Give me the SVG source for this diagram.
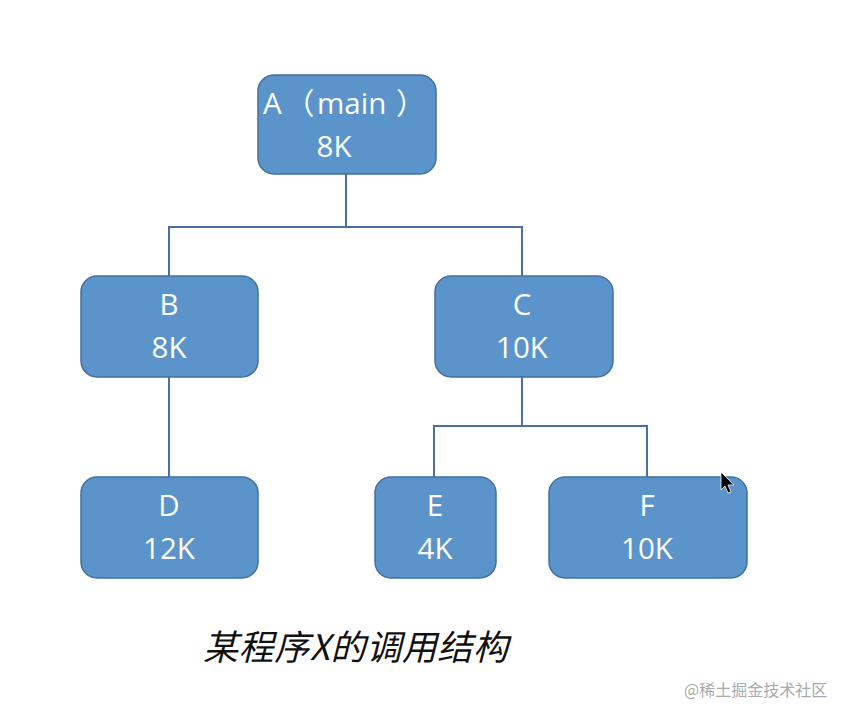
<svg xmlns="http://www.w3.org/2000/svg" width="851" height="704" viewBox="0 0 851 704">
<style>
.box{fill:#5B93CB;stroke:#41719C;stroke-width:1.5}
.lbl{font-family:"Open Sans","Liberation Sans","Noto Sans CJK SC",sans-serif;font-size:29.5px;fill:#FFFFFF;text-anchor:middle}
.conn{fill:none;stroke:#4A6FA5;stroke-width:2}
.cap{font-family:"Noto Sans CJK SC","Liberation Sans",sans-serif;font-size:35px;font-style:italic;fill:#111111}
.wm{font-family:"Noto Sans CJK SC",sans-serif;font-size:16px;fill:#AAAAAA}
</style>
<rect width="851" height="704" fill="#FFFFFF"/>
<g id="connectors">
<path class="conn" d="M346,174 V227 M169,276 V227 H522 V276"/>
<path class="conn" d="M169,377 V477"/>
<path class="conn" d="M522,377 V426 M434,477 V426 H647 V477"/>
</g>
<g id="A">
<rect class="box" x="258" y="75" width="178" height="99" rx="16"/>
<text class="lbl" y="114" style="text-anchor:start"><tspan x="263">A</tspan><tspan x="285">（</tspan><tspan x="317">main</tspan><tspan x="396">）</tspan></text>
<text class="lbl" x="334" y="157">8K</text>
</g>
<g id="B">
<rect class="box" x="81" y="276" width="177" height="101" rx="16"/>
<text class="lbl" x="169" y="315">B</text>
<text class="lbl" x="169" y="358">8K</text>
</g>
<g id="C">
<rect class="box" x="435" y="276" width="178" height="101" rx="16"/>
<text class="lbl" x="522" y="315">C</text>
<text class="lbl" x="522" y="358">10K</text>
</g>
<g id="D">
<rect class="box" x="81" y="477" width="177" height="101" rx="16"/>
<text class="lbl" x="169" y="516">D</text>
<text class="lbl" x="169" y="559">12K</text>
</g>
<g id="E">
<rect class="box" x="375" y="477" width="121" height="101" rx="16"/>
<text class="lbl" x="435" y="516">E</text>
<text class="lbl" x="435" y="559">4K</text>
</g>
<g id="F">
<rect class="box" x="549" y="477" width="198" height="101" rx="16"/>
<text class="lbl" x="647" y="516">F</text>
<text class="lbl" x="647" y="559">10K</text>
</g>
<text class="cap" x="203" y="660" textLength="305" lengthAdjust="spacing">某程序X的调用结构</text>
<text class="wm" x="684" y="696">@稀土掘金技术社区</text>
<path d="M721,472 L721,490 L725,486 L728,493 L731,492 L728,485 L734,485 Z" fill="#000000" stroke="#FFFFFF" stroke-width="0.8"/>
</svg>
